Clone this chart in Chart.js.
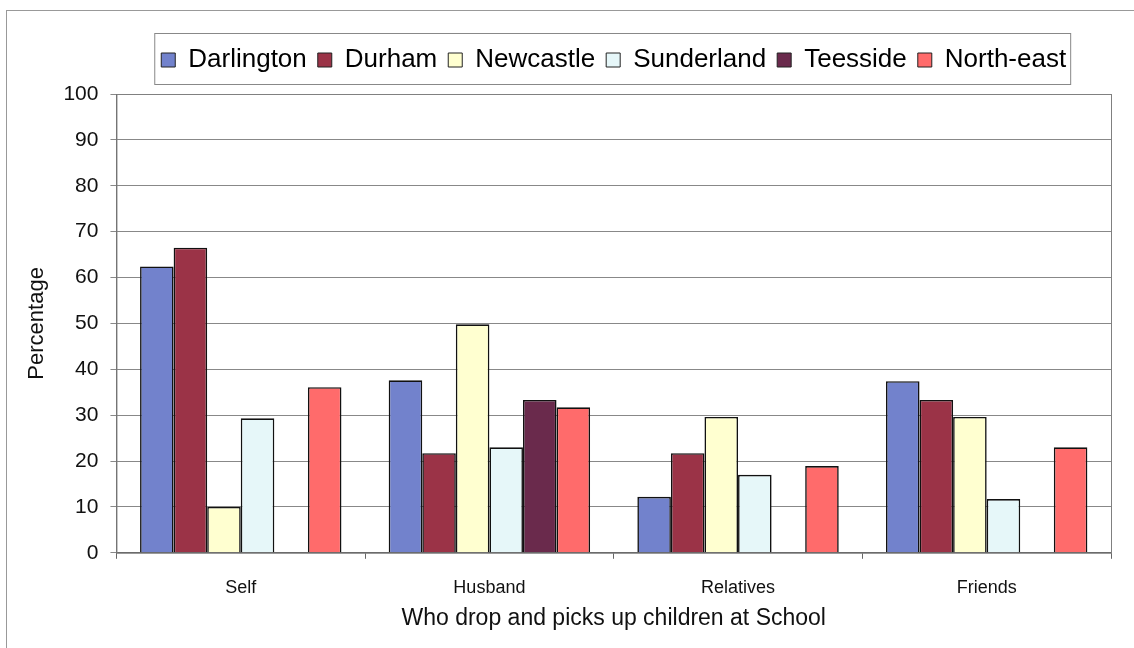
<!DOCTYPE html>
<html lang="en">
<head>
  <meta charset="UTF-8">
  <title>Who drop and picks up children at School</title>
  <script src="https://cdn.jsdelivr.net/npm/chart.js"></script>
  <style>
    body { margin: 0; background: #fff; overflow: hidden; }
    #wrap { position: relative; width: 1134px; height: 648px; overflow: hidden; }
    #frame { position: absolute; left: 6px; top: 10px; width: 1200px; height: 700px; border: 1px solid #999; }
    canvas { position: absolute; left: 0; top: 0; }
  </style>
</head>
<body>
  <div id="wrap">
    <div id="frame"></div>
    <canvas id="schoolChart" width="1134" height="648"></canvas>
  </div>

  <script>
    // Categorias y valores (porcentajes)
    const categorias = ['Self', 'Husband', 'Relatives', 'Friends'];
    const regiones = ['Darlington', 'Durham', 'Newcastle', 'Sunderland', 'Teesside', 'North-east'];

    const darlington = [62.4, 37.6, 12.2, 37.4];
    const durham     = [66.5, 21.7, 21.7, 33.3];
    const newcastle  = [10, 49.8, 29.6, 29.6];
    const sunderland = [29.3, 23, 17, 11.7];
    const teesside   = [0, 33.3, 0, 0];
    const northEast  = [36.1, 31.7, 18.9, 23];

    const colores = ['#7282cc', '#9b3347', '#ffffd0', '#e6f7f9', '#6a2a4c', '#ff6b6b'];
    const series = [darlington, durham, newcastle, sunderland, teesside, northEast];

    // caja del area de grafico y de la leyenda
    const marcos = {
      id: 'marcos',
      afterInit(chart) {
        // un poco mas de aire debajo de la leyenda
        const lg = chart.legend;
        const fit = lg.fit.bind(lg);
        lg.fit = function () { fit(); this.height += 11; };
      },
      afterDraw(chart) {
        const ctx = chart.ctx;
        const a = chart.chartArea;
        ctx.save();
        ctx.strokeStyle = '#808080';
        ctx.lineWidth = 1;
        ctx.strokeRect(a.left + 0.5, a.top + 0.5, a.right - a.left, a.bottom - a.top);

        const hb = chart.legend.legendHitBoxes;
        if (hb && hb.length) {
          const x0 = Math.min(...hb.map(h => h.left)) - 7;
          const x1 = Math.max(...hb.map(h => h.left + h.width)) + 4;
          const y0 = Math.min(...hb.map(h => h.top)) - 14;
          const y1 = Math.max(...hb.map(h => h.top + h.height)) + 11;
          ctx.strokeStyle = '#888';
          ctx.strokeRect(x0 + 0.5, y0 + 0.5, x1 - x0, y1 - y0);
        }
        ctx.restore();
      }
    };

    const ctx = document.getElementById('schoolChart').getContext('2d');
    new Chart(ctx, {
      type: 'bar',
      data: {
        labels: categorias,
        datasets: regiones.map((r, i) => ({
          label: r,
          data: series[i],
          backgroundColor: colores[i],
          borderColor: '#111',
          borderWidth: 1.6,
          categoryPercentage: 0.81,
          barPercentage: 1
        }))
      },
      options: {
        responsive: false,
        animation: false,
        layout: { padding: { left: 20, right: 23, top: 36, bottom: 12 } },
        plugins: {
          legend: {
            position: 'top',
            fullSize: false,
            labels: {
              color: '#111',
              font: { family: 'Liberation Sans, Arial', size: 26 },
              boxWidth: 14,
              boxHeight: 14,
              padding: 11,
              generateLabels(chart) {
                return chart.data.datasets.map((d, i) => ({
                  text: d.label,
                  fillStyle: d.backgroundColor,
                  strokeStyle: '#222',
                  lineWidth: 1,
                  datasetIndex: i
                }));
              }
            }
          },
          tooltip: { enabled: false }
        },
        scales: {
          x: {
            offset: true,
            grid: { offset: true, drawOnChartArea: false, drawTicks: true, tickLength: 6, color: '#666' },
            border: { color: '#666' },
            ticks: { color: '#111', font: { family: 'Liberation Sans, Arial', size: 18 }, padding: 18 },
            title: {
              display: true,
              text: 'Who drop and picks up children at School',
              color: '#111',
              font: { family: 'Liberation Sans, Arial', size: 23 },
              padding: { top: -12 }
            }
          },
          y: {
            min: 0,
            max: 100,
            ticks: { stepSize: 10, color: '#111', font: { family: 'Liberation Sans, Arial', size: 21 }, padding: 12 },
            grid: { color: '#888', tickLength: 6 },
            border: { color: '#666' },
            title: {
              display: true,
              text: 'Percentage',
              color: '#111',
              font: { family: 'Liberation Sans, Arial', size: 22 },
              padding: { bottom: 1 }
            }
          }
        }
      },
      plugins: [marcos]
    });
  </script>
</body>
</html>
